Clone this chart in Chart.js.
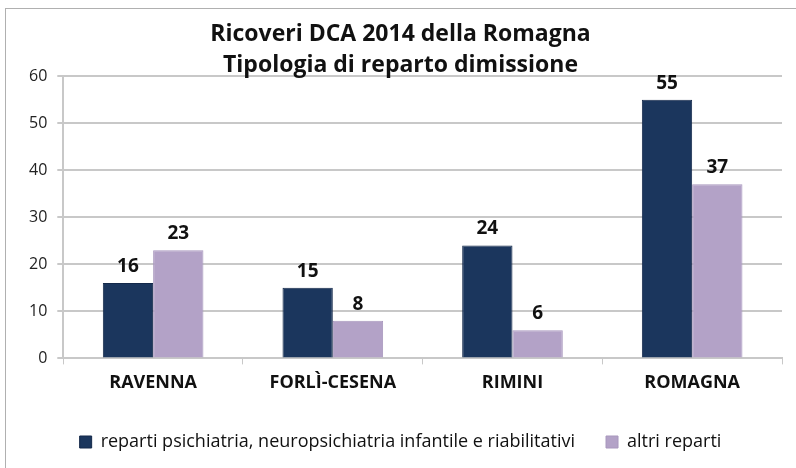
<!DOCTYPE html>
<html>
<head>
<meta charset="utf-8">
<script src="https://cdn.jsdelivr.net/npm/chart.js@4"></script>
<style>
  html, body { margin: 0; padding: 0; background: #fff; }
  #box { position: absolute; left: 5px; top: 8px; width: 800px; height: 470px; border: 1px solid #b0b0b0; box-sizing: border-box; }
  #wrap { position: absolute; left: 0; top: 0; width: 796px; height: 468px; }
</style>
</head>
<body>
<div id="box"></div>
<div id="wrap"><canvas id="myChart"></canvas></div>
<script>
var categories = ['RAVENNA', 'FORLÌ-CESENA', 'RIMINI', 'ROMAGNA'];
var psichiatria = [16, 15, 24, 55];
var altri = [23, 8, 6, 37];
var seriesNames = ['reparti psichiatria, neuropsichiatria infantile e riabilitativi', 'altri reparti'];

// draws value labels above each bar
var valueLabels = {
  id: 'valueLabels',
  afterDatasetsDraw: function(chart) {
    var ctx = chart.ctx;
    ctx.save();
    ctx.font = 'bold 19px "Open Sans"';
    ctx.fillStyle = '#111';
    ctx.textAlign = 'center';
    ctx.textBaseline = 'bottom';
    chart.data.datasets.forEach(function(ds, i) {
      chart.getDatasetMeta(i).data.forEach(function(bar, j) {
        ctx.fillText(ds.data[j], bar.x, bar.y - 7);
      });
    });
    ctx.restore();
  }
};

var ctx = document.getElementById('myChart').getContext('2d');
var chart = new Chart(ctx, {
    type: 'bar',
    data: {
        labels: categories,
        datasets: [{
            label: seriesNames[0],
            backgroundColor: '#1b365d',
            borderColor: '#14294a',
            borderWidth: 1,
            data: psichiatria
        }, {
            label: seriesNames[1],
            backgroundColor: '#b3a2c7',
            borderColor: '#a897bd',
            borderWidth: 1,
            data: altri
        }]
    },
    options: {
        responsive: true,
        maintainAspectRatio: false,
        animation: false,
        layout: { padding: { left: 19, right: 14, top: 0, bottom: 7 } },
        datasets: { bar: { categoryPercentage: 0.56, barPercentage: 1 } },
        plugins: {
            title: {
                display: true,
                text: ['Ricoveri DCA 2014 della Romagna', 'Tipologia di reparto dimissione'],
                font: { family: 'Open Sans', size: 23, weight: 'bold', lineHeight: 1.35 },
                color: '#111',
                padding: { top: 19, bottom: -5 }
            },
            legend: {
                position: 'bottom',
                labels: {
                    font: { family: 'Open Sans', size: 18 },
                    color: '#111',
                    boxWidth: 12,
                    boxHeight: 12,
                    padding: 31
                }
            },
            tooltip: { enabled: false }
        },
        scales: {
            x: {
                grid: { display: true, drawOnChartArea: false, color: '#c8c8c8', tickLength: 6, offset: true },
                border: { color: '#c8c8c8', width: 2 },
                ticks: { font: { family: 'Open Sans', size: 18, weight: 'bold' }, color: '#111', padding: 8 }
            },
            y: {
                min: 0,
                max: 60,
                ticks: { stepSize: 10, font: { family: 'Open Sans', size: 16 }, color: '#222', padding: 10 },
                grid: { color: '#c8c8c8', lineWidth: 2, tickLength: 6 },
                border: { color: '#c8c8c8', width: 2 }
            }
        }
    },
    plugins: [valueLabels]
});
</script>
</body>
</html>
